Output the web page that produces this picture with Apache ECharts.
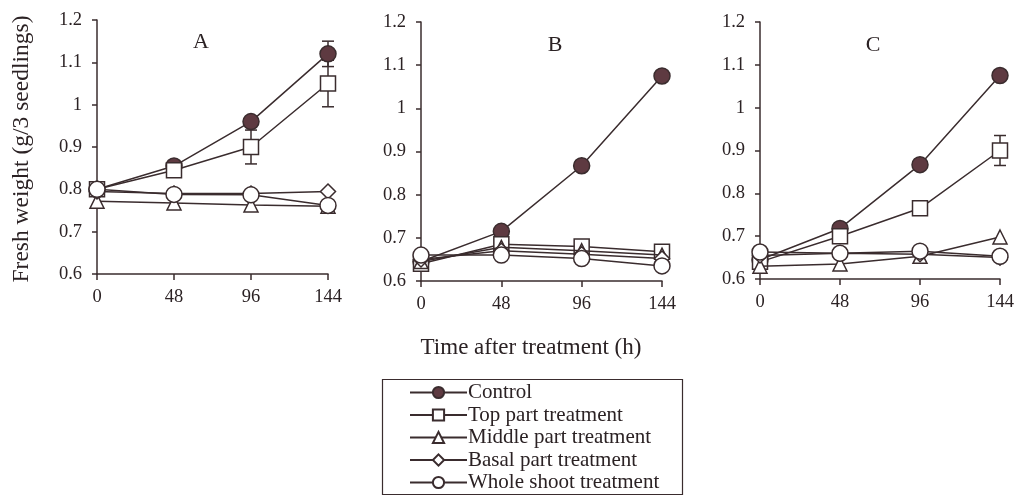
<!DOCTYPE html>
<html>
<head>
<meta charset="utf-8">
<script src="https://cdn.jsdelivr.net/npm/echarts@6/dist/echarts.min.js"></script>
<style>
  html, body { margin: 0; padding: 0; background: #ffffff; }
  #chart { width: 1019px; height: 496px; }
</style>
</head>
<body>
<div id="chart"></div>
<script>
// Sampling times (h after treatment)
const hours = [0, 48, 96, 144];
const xTickLabels = ['0', '48', '96', '144'];
const panelLabels = ['A', 'B', 'C'];
const seriesNames = ['Control', 'Top part treatment', 'Middle part treatment', 'Basal part treatment', 'Whole shoot treatment'];

// Fresh weight (g / 3 seedlings), panel A
const controlA = [0.80, 0.855, 0.96, 1.12];
const topA     = [0.80, 0.845, 0.90, 1.05];
const middleA  = [0.772, 0.768, 0.763, 0.76];
const basalA   = [0.795, 0.79, 0.79, 0.795];
const wholeA   = [0.80, 0.788, 0.787, 0.762];

// Panel B
const controlB = [0.645, 0.715, 0.867, 1.075];
const topB     = [0.64, 0.685, 0.68, 0.668];
const middleB  = [0.645, 0.678, 0.67, 0.66];
const basalB   = [0.65, 0.67, 0.662, 0.652];
const wholeB   = [0.66, 0.66, 0.652, 0.635];

// Panel C
const controlC = [0.645, 0.718, 0.867, 1.075];
const topC     = [0.64, 0.70, 0.765, 0.90];
const middleC  = [0.63, 0.635, 0.653, 0.698];
const basalC   = [0.655, 0.66, 0.658, 0.65];
const wholeC   = [0.663, 0.66, 0.665, 0.653];

// Standard errors (0 = no visible bar)
const errControlA = [0, 0, 0, 0.03];
const errTopA     = [0, 0, 0.04, 0.055];
const errTopC     = [0, 0, 0, 0.035];

const ink = '#3a2c2e';
const fillDark = '#5e3a41';
const serif = '"Liberation Serif", "DejaVu Serif", serif';

const panels = [
  { values: [controlA, topA, middleA, basalA, wholeA], errors: [errControlA, errTopA] },
  { values: [controlB, topB, middleB, basalB, wholeB], errors: [] },
  { values: [controlC, topC, middleC, basalC, wholeC], errors: [null, errTopC] }
];

const markerStyles = [
  { symbol: 'circle', size: 16, fill: fillDark },
  { symbol: 'rect', size: 15, fill: '#ffffff' },
  { symbol: 'triangle', size: 14, fill: '#ffffff' },
  { symbol: 'diamond', size: 15, fill: '#ffffff' },
  { symbol: 'circle', size: 16, fill: '#ffffff' }
];

const grids = [
  { left: 97, top: 20, width: 231, height: 254 },
  { left: 421, top: 22, width: 241, height: 259 },
  { left: 760, top: 22, width: 240, height: 257 }
];

const axisLabelStyle = { fontFamily: serif, fontSize: 18.5, color: '#2b2224' };

const xAxes = grids.map((g, i) => ({
  type: 'value', gridIndex: i, min: 0, max: 144, interval: 48,
  axisLine: { lineStyle: { color: ink, width: 1.5 } },
  axisTick: { length: 6, lineStyle: { color: ink, width: 1.5 } },
  splitLine: { show: false },
  axisLabel: Object.assign({ margin: 14, formatter: v => xTickLabels[hours.indexOf(v)] }, axisLabelStyle)
}));

const yAxes = grids.map((g, i) => ({
  type: 'value', gridIndex: i, min: 0.6, max: 1.2, interval: 0.1,
  axisLine: { show: true, lineStyle: { color: ink, width: 1.5 } },
  axisTick: { show: true, length: 5, lineStyle: { color: ink, width: 1.5 } },
  splitLine: { show: false },
  axisLabel: Object.assign({ margin: 15, formatter: v => String(Math.round(v * 10) / 10) }, axisLabelStyle)
}));

const series = [];
panels.forEach((p, gi) => {
  // error bars first so the markers sit above them
  p.errors.forEach((err, si) => {
    if (!err) return;
    const vals = p.values[si];
    const bars = hours.map((h, k) => [h, vals[k] - err[k], vals[k] + err[k]]).filter((d, k) => err[k] > 0);
    series.push({
      type: 'custom', xAxisIndex: gi, yAxisIndex: gi, z: 1, silent: true,
      encode: { x: 0, y: [1, 2] },
      data: bars,
      renderItem(params, api) {
        const lo = api.coord([api.value(0), api.value(1)]);
        const hi = api.coord([api.value(0), api.value(2)]);
        const half = 6;
        const st = { stroke: ink, lineWidth: 1.5 };
        return {
          type: 'group',
          children: [
            { type: 'line', shape: { x1: lo[0], y1: lo[1], x2: hi[0], y2: hi[1] }, style: st },
            { type: 'line', shape: { x1: lo[0] - half, y1: lo[1], x2: lo[0] + half, y2: lo[1] }, style: st },
            { type: 'line', shape: { x1: hi[0] - half, y1: hi[1], x2: hi[0] + half, y2: hi[1] }, style: st }
          ]
        };
      }
    });
  });
  p.values.forEach((vals, si) => {
    const m = markerStyles[si];
    series.push({
      name: seriesNames[si], type: 'line', xAxisIndex: gi, yAxisIndex: gi,
      z: 2 + si,
      data: hours.map((h, k) => [h, vals[k]]),
      symbol: m.symbol, symbolSize: m.size, showAllSymbol: true,
      lineStyle: { color: ink, width: 1.5 },
      itemStyle: { color: m.fill, borderColor: ink, borderWidth: 1.5, opacity: 1 },
      emphasis: { disabled: true },
      animation: false
    });
  });
});

// One legend row per treatment, stacked inside a framed box
const legendRowStep = 22.5;
const legends = seriesNames.map((name, i) => ({
  data: [name], orient: 'horizontal', left: 409, top: 382 + i * legendRowStep,
  itemWidth: 57, itemHeight: 14, padding: 0,
  selectedMode: false,
  textStyle: { fontFamily: serif, fontSize: 21, color: '#2b2224', padding: [0, 0, 0, -4] }
}));

const chart = echarts.init(document.getElementById('chart'));
chart.setOption({
  backgroundColor: '#ffffff',
  animation: false,
  grid: grids,
  xAxis: xAxes,
  yAxis: yAxes,
  series: series,
  title: [
    { text: panelLabels[0], left: 201, top: 31, textAlign: 'center' },
    { text: panelLabels[1], left: 555, top: 34, textAlign: 'center' },
    { text: panelLabels[2], left: 873, top: 34, textAlign: 'center' },
    { text: 'Time after treatment (h)', left: 531, top: 336, textAlign: 'center', fontSize: 23 }
  ].map(t => Object.assign(t, { padding: 0, textStyle: { fontFamily: serif, fontSize: t.fontSize || 22, fontWeight: 'normal', color: '#2b2224' } })),
  graphic: [
    {
      type: 'text', x: 22, y: 149, rotation: Math.PI / 2,
      style: { text: 'Fresh weight (g/3 seedlings)', fontFamily: serif, fontSize: 23.5, fill: '#2b2224', align: 'center', verticalAlign: 'middle' }
    },
    {
      type: 'rect', shape: { x: 382.5, y: 379.5, width: 300, height: 115 },
      style: { fill: 'none', stroke: ink, lineWidth: 1.2 }, z: 0
    }
  ],
  legend: legends
});
</script>
</body>
</html>
